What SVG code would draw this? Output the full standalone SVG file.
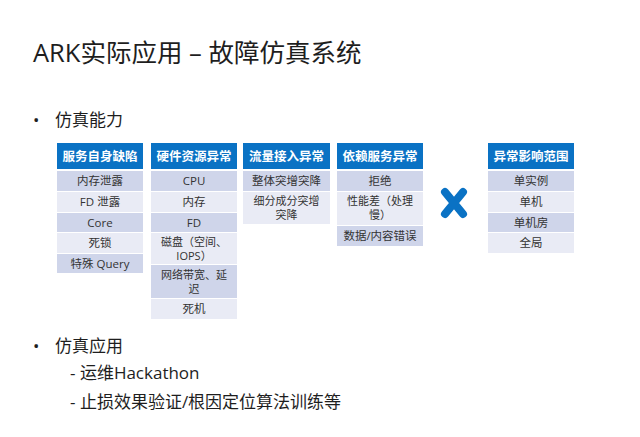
<svg xmlns="http://www.w3.org/2000/svg" width="640" height="437" viewBox="0 0 640 437">
<style>
text{font-family:"Segoe UI","Open Sans","Noto Sans CJK SC",sans-serif;}
.t{font-size:25.5px;fill:#1e1e1e;}
.b{font-size:17px;fill:#1e1e1e;}
.h rect{fill:#0a72c4;}
.h text{font-size:12.5px;font-weight:bold;fill:#fff;text-anchor:middle;}
.d{fill:#cfd5ea;}
.l{fill:#e9ebf5;}
.c{font-size:11.5px;fill:#333;text-anchor:middle;}
.c2{font-size:11px;fill:#333;text-anchor:middle;}
</style>
<rect width="640" height="437" fill="#fff"/>
<text class="t" x="33" y="62">ARK实际应用 – 故障仿真系统</text>
<text class="b" x="33" y="126">•</text>
<text class="b" x="55" y="126">仿真能力</text>
<text class="b" x="33" y="352">•</text>
<text class="b" x="55" y="352">仿真应用</text>
<text class="b" x="70" y="379">- 运维Hackathon</text>
<text class="b" x="70" y="408">- 止损效果验证/根因定位算法训练等</text>

<g id="col1">
<g class="h"><rect x="57" y="143" width="86" height="26"/><text x="100" y="161">服务自身缺陷</text></g>
<rect class="d" x="57" y="171" width="86" height="20"/><text class="c" x="100" y="185">内存泄露</text>
<rect class="l" x="57" y="192" width="86" height="20"/><text class="c" x="100" y="206">FD 泄露</text>
<rect class="d" x="57" y="213" width="86" height="19"/><text class="c" x="100" y="227">Core</text>
<rect class="l" x="57" y="233" width="86" height="20"/><text class="c" x="100" y="247">死锁</text>
<rect class="d" x="57" y="254" width="86" height="19"/><text class="c" x="100" y="268">特殊 Query</text>
</g>

<g id="col2">
<g class="h"><rect x="151" y="143" width="86" height="26"/><text x="194" y="161">硬件资源异常</text></g>
<rect class="d" x="151" y="171" width="86" height="20"/><text class="c" x="194" y="185">CPU</text>
<rect class="l" x="151" y="192" width="86" height="20"/><text class="c" x="194" y="206">内存</text>
<rect class="d" x="151" y="213" width="86" height="19"/><text class="c" x="194" y="227">FD</text>
<rect class="l" x="151" y="233" width="86" height="31"/><text class="c2" x="194" y="245.5">磁盘（空间、</text><text class="c2" x="194" y="259.5">IOPS）</text>
<rect class="d" x="151" y="265" width="86" height="33"/><text class="c2" x="194" y="278.5">网络带宽、延</text><text class="c2" x="194" y="292.5">迟</text>
<rect class="l" x="151" y="299" width="86" height="20"/><text class="c" x="194" y="313">死机</text>
</g>

<g id="col3">
<g class="h"><rect x="243" y="143" width="87" height="26"/><text x="286.5" y="161">流量接入异常</text></g>
<rect class="d" x="243" y="171" width="87" height="20"/><text class="c" x="286.5" y="185">整体突增突降</text>
<rect class="l" x="243" y="192" width="87" height="32"/><text class="c2" x="286.5" y="205">细分成分突增</text><text class="c2" x="286.5" y="219">突降</text>
</g>

<g id="col4">
<g class="h"><rect x="337" y="143" width="86" height="26"/><text x="380" y="161">依赖服务异常</text></g>
<rect class="d" x="337" y="171" width="86" height="20"/><text class="c" x="380" y="185">拒绝</text>
<rect class="l" x="337" y="192" width="86" height="33"/><text class="c2" x="380" y="205">性能差（处理</text><text class="c2" x="380" y="219">慢）</text>
<rect class="d" x="337" y="226" width="86" height="20"/><text class="c" x="380" y="240">数据/内容错误</text>
</g>

<g id="times">
<path d="M445 192 L463 214 M463 192 L445 214" stroke="#0a72c4" stroke-width="8" stroke-linecap="round" fill="none"/>
</g>

<g id="col5">
<g class="h"><rect x="488" y="143" width="86" height="26"/><text x="531" y="161">异常影响范围</text></g>
<rect class="d" x="488" y="171" width="86" height="20"/><text class="c" x="531" y="185">单实例</text>
<rect class="l" x="488" y="192" width="86" height="20"/><text class="c" x="531" y="206">单机</text>
<rect class="d" x="488" y="213" width="86" height="19"/><text class="c" x="531" y="227">单机房</text>
<rect class="l" x="488" y="233" width="86" height="20"/><text class="c" x="531" y="247">全局</text>
</g>
<g id="connectors"/>
</svg>
